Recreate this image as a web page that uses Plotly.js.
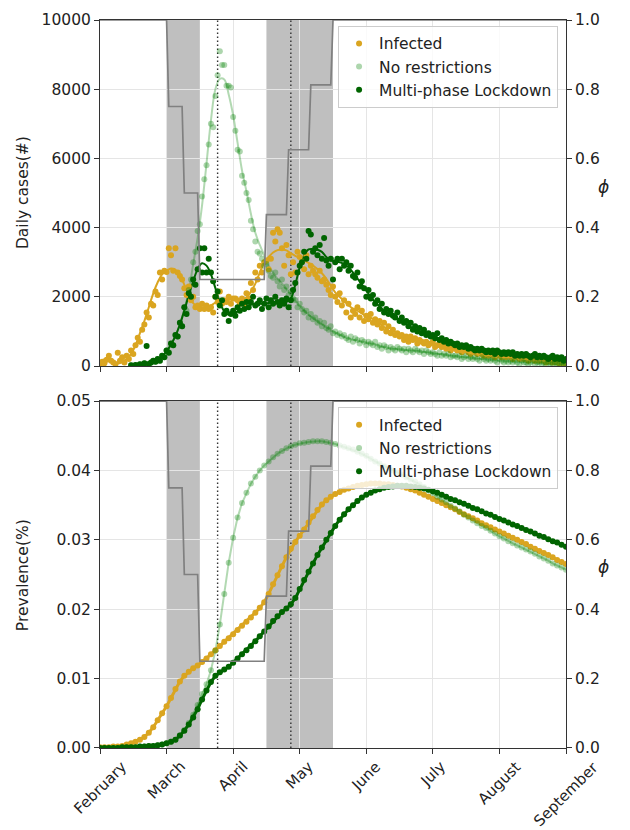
<!DOCTYPE html>
<html>
<head>
<meta charset="utf-8">
<script src="https://cdn.plot.ly/plotly-3.0.1.min.js"></script>
<style>html,body{margin:0;padding:0;background:#fff;}#chart{width:630px;height:830px;}</style>
</head>
<body>
<div id="chart"></div>
<script>
// ---------- DATA ----------
const monthTickDays = [0, 30, 60, 90, 120, 150, 180, 210];
const monthNames = ["February", "March", "April", "May", "June", "July", "August", "September"];

const lockdownStart = [30, 75];
const lockdownEnd = [45, 105];
const markerDays = [53, 86];

// phi (lockdown strength) breakpoints
const phiDays = [0, 30, 31, 37, 38, 44, 45, 74, 75, 84, 85, 94, 95, 104, 105, 210];
const phiValues = [1, 1, 0.75, 0.75, 0.5, 0.5, 0.25, 0.25, 0.4375, 0.4375, 0.625, 0.625, 0.8125, 0.8125, 1, 1];

// Daily cases, observed infected, day 0..210
const dailyInfected = [
50,120,80,180,300,150,100,60,380,150,
250,100,300,200,450,350,600,820,700,1050,
1200,1550,1400,1800,1750,2150,2050,2700,2500,2750,
2720,3400,3200,2750,3400,2700,2600,2500,2250,2050,
2300,1900,2000,1700,1750,1650,1800,1650,1750,1650,
1700,1550,2000,1850,2150,1800,1900,1850,2000,1800,
1950,1950,1900,1800,1950,1800,2100,1950,2400,2200,
2700,2500,2900,2700,3000,3050,2800,3100,3850,3600,
3950,3850,3400,2900,3500,3200,2650,3000,2700,3300,
3150,3000,2800,3200,2650,2900,2750,2650,2550,2750,
2450,2500,2350,2200,2050,2300,2000,1850,2100,1750,
1900,1550,1800,1400,1600,1500,1700,1400,1600,1300,
1450,1350,1500,1250,1350,1200,1300,1100,1250,1000,
1150,950,1050,900,950,850,900,750,850,700,
850,750,800,650,750,700,650,700,600,650,
700,550,600,650,550,600,500,550,450,600,
500,450,500,400,450,500,400,350,450,400,
350,400,350,300,400,300,350,300,250,350,
300,250,300,250,300,250,200,300,250,200,
250,200,250,150,200,250,150,200,150,200,
150,100,150,120,100,150,100,80,120,60,
80];
// Daily cases, simulations, day 14..210
const simStartDay = 14;
const dailyNoRestr = [
20,0,30,10,50,20,
80,40,60,100,150,120,200,150,300,250,
450,400,650,600,900,850,1250,1150,1700,1600,
2200,2500,3000,3300,3900,4100,4900,5400,5800,6400,
7000,6900,7800,8400,9100,8700,8700,8100,8100,8050,
7200,6800,6250,6200,5500,5300,5000,4800,4200,3950,
3600,3300,3250,3100,2900,2950,2750,2600,2550,2700,
2450,2300,2500,2200,2300,2050,2150,1950,1900,1700,
1800,1650,1550,1600,1400,1500,1350,1400,1250,1300,
1150,1250,1100,1050,1150,950,1000,900,950,850,
900,800,750,850,700,800,750,650,750,700,
600,700,650,600,700,550,600,500,600,550,
450,550,500,450,550,500,450,500,400,500,
450,400,500,450,400,450,350,450,400,350,
400,350,300,400,300,350,300,350,250,300,
300,250,300,200,250,300,200,250,200,250,
200,150,250,200,150,200,150,200,150,100,
200,150,100,150,100,150,100,150,100,50,
150,100,100,50,100,150,50,100,100,50,
100,50,100,80,50,100,60,50,100,50,
60];
const dailyLockdown = [
20,0,30,10,50,20,
80,580,60,100,150,120,200,150,300,250,
450,380,650,600,900,850,1250,1150,1700,1500,
2100,2000,2500,2350,2800,3400,2700,3400,2700,3100,
2700,2450,2000,2150,1750,1900,1500,1600,1300,1500,
1600,1450,1700,1600,1800,1650,1850,1700,1850,2000,
1750,1800,1900,1650,1800,1950,1700,1900,1800,2000,
1850,1750,1900,1800,1950,1700,1900,2200,2400,2700,
2900,3000,3300,3100,3900,3800,3300,3400,3200,3500,
3100,3700,3050,2900,3100,2500,3000,3100,2800,3100,
2900,3000,2750,2900,2600,2550,2700,2300,2450,2250,
2000,2200,1950,2050,1800,1900,1650,1800,1550,1650,
1500,1600,1450,1400,1550,1300,1400,1250,1300,1150,
1250,1050,1150,1000,1100,950,1050,900,950,850,
900,800,950,750,800,700,750,650,700,650,
600,650,550,600,550,600,500,550,500,450,
500,450,500,450,400,450,400,450,350,450,
400,350,400,350,400,350,400,300,350,300,
350,300,350,300,250,300,350,250,300,250,
300,250,200,250,300,200,250,200,250,150,
200];

// Smoothed daily cases (every 2 days)
const smoothInfected = [
100,200,220,120,70,120,200,350,600,950,
1300,1700,2100,2420,2650,2750,2820,2780,2650,2350,
2050,1820,1720,1700,1680,1750,1830,1880,1900,1910,
1920,1920,1930,1980,2150,2380,2700,2980,3150,3280,
3350,3370,3340,3260,3180,3120,3050,2980,2900,2800,
2680,2520,2320,2130,2000,1880,1760,1660,1600,1520,
1450,1400,1320,1230,1130,1030,940,880,840,810,
790,770,750,715,680,650,620,595,570,535,
500,475,450,430,410,390,370,350,335,320,
310,300,285,270,255,240,225,210,190,175,
150,125,115,105,95,80];
const smoothNoRestr = [
10,20,40,60,90,130,170,280,420,620,870,1200,1650,
2150,2950,3700,4650,5850,7100,8000,8300,8280,7850,
7250,6450,5650,5050,4400,3850,3500,3200,2900,2700,
2520,2380,2230,2050,1880,1750,1600,1480,1380,1290,
1200,1120,1040,970,900,840,790,760,740,710,
680,650,620,585,550,525,500,485,470,460,
450,440,425,410,390,370,355,340,325,305,
290,275,260,245,232,220,208,196,184,172,
160,152,144,136,128,120,116,104,98,94,
90,86,82,78,74,70];
const smoothLockdown = [
10,20,40,60,90,130,170,280,420,620,870,1200,1600,
2050,2450,2800,2970,2900,2650,2250,1850,1580,1480,
1500,1580,1650,1720,1770,1800,1800,1800,1820,1840,
1850,1830,1850,1950,2350,2850,3200,3370,3380,3360,
3300,3150,3050,3030,3000,2950,2850,2700,2530,2360,
2180,2000,1850,1720,1600,1520,1450,1380,1300,1220,
1130,1065,1000,970,920,870,820,775,730,690,
650,620,590,565,540,520,500,480,455,430,
410,395,380,370,355,340,326,312,298,285,
272,260,248,236,228,220];

// Prevalence (%), every 2 days, day 0..210
const prevInfected = [
0.0001,0.0001,0.0001,0.0002,0.0002,0.0003,0.0005,0.0007,0.0009,0.0012,
0.0016,0.0022,0.0030,0.0040,0.0050,0.0060,0.0072,0.0085,0.0096,0.0104,
0.0110,0.0115,0.0119,0.0124,0.0129,0.0135,0.0141,0.0147,0.0153,0.0158,
0.0164,0.0170,0.0176,0.0182,0.0188,0.0195,0.0202,0.0210,0.0222,0.0236,
0.0249,0.0262,0.0275,0.0287,0.0297,0.0306,0.0315,0.0325,0.0334,0.0343,
0.0351,0.0357,0.0362,0.0366,0.0369,0.0372,0.0374,0.0376,0.0378,0.0379,
0.0380,0.0381,0.0381,0.0381,0.0380,0.0380,0.0379,0.0378,0.0377,0.0375,
0.0373,0.0371,0.0368,0.0365,0.0362,0.0359,0.0356,0.0353,0.0350,0.0347,
0.0344,0.0340,0.0337,0.0334,0.0331,0.0328,0.0324,0.0321,0.0318,0.0315,
0.0312,0.0309,0.0306,0.0303,0.0300,0.0297,0.0294,0.0290,0.0287,0.0284,
0.0281,0.0278,0.0275,0.0271,0.0268,0.0265];
const prevNoRestr = [
0,0,0,0,0,0.0001,0.0001,0.0001,0.0001,0.0002,
0.0002,0.0003,0.0003,0.0004,0.0005,0.0007,0.0009,0.0012,0.0018,0.0026,
0.0036,0.0048,0.0062,0.0078,0.0092,0.0112,0.0140,0.0178,0.0222,0.0267,
0.0303,0.0332,0.0353,0.0368,0.0381,0.0391,0.0400,0.0407,0.0413,0.0419,
0.0424,0.0428,0.0432,0.0435,0.0437,0.0439,0.0440,0.0441,0.0442,0.0442,
0.0442,0.0441,0.0440,0.0438,0.0436,0.0434,0.0432,0.0430,0.0427,0.0424,
0.0421,0.0417,0.0413,0.0410,0.0406,0.0403,0.0400,0.0397,0.0394,0.0390,
0.0387,0.0384,0.0380,0.0376,0.0371,0.0367,0.0362,0.0358,0.0354,0.0349,
0.0345,0.0341,0.0336,0.0332,0.0328,0.0324,0.0320,0.0317,0.0313,0.0309,
0.0305,0.0302,0.0298,0.0295,0.0292,0.0289,0.0286,0.0283,0.0280,0.0276,
0.0273,0.0270,0.0266,0.0263,0.0260,0.0257];
const prevLockdown = [
0,0,0,0,0,0.0001,0.0001,0.0001,0.0001,0.0002,
0.0002,0.0003,0.0003,0.0004,0.0005,0.0007,0.0009,0.0012,0.0018,0.0025,
0.0034,0.0044,0.0056,0.0070,0.0083,0.0095,0.0104,0.0109,0.0113,0.0117,
0.0123,0.0129,0.0135,0.0141,0.0147,0.0154,0.0161,0.0168,0.0175,0.0183,
0.0190,0.0196,0.0201,0.0207,0.0216,0.0229,0.0242,0.0254,0.0266,0.0278,
0.0289,0.0300,0.0310,0.0320,0.0329,0.0337,0.0344,0.0350,0.0356,0.0361,
0.0365,0.0368,0.0371,0.0373,0.0375,0.0376,0.0377,0.0378,0.0378,0.0378,
0.0377,0.0376,0.0375,0.0374,0.0372,0.0370,0.0368,0.0365,0.0362,0.0359,
0.0357,0.0354,0.0352,0.0349,0.0346,0.0344,0.0341,0.0338,0.0336,0.0333,
0.0330,0.0328,0.0325,0.0322,0.0320,0.0317,0.0314,0.0312,0.0309,0.0306,
0.0304,0.0301,0.0298,0.0296,0.0293,0.0290];

// ---------- BUILD ----------
const range = (start, n, step) => Array.from({length: n}, (_, i) => start + i * step);
const dayAll = range(0, dailyInfected.length, 1);
const daySim = range(simStartDay, dailyLockdown.length, 1);
const daySmoothInf = range(0, smoothInfected.length, 2);
const daySmoothSim = range(simStartDay, smoothLockdown.length, 2);
const dayPrev = range(0, prevInfected.length, 2);

const GOLD = '#DAA520';
const LIGHT = 'rgba(0,128,0,0.32)';
const LIGHTLINE = 'rgba(0,128,0,0.3)';
const DARK = '#006400';
const FONT = 'DejaVu Sans';

const traces = [];
function smooth(x, y, color, xa, ya) {
  traces.push({x, y, xaxis: xa, yaxis: ya, type: 'scatter', mode: 'lines',
    line: {color, width: 2, shape: 'spline', smoothing: 1}, showlegend: false, hoverinfo: 'skip'});
}
function dots(x, y, color, name, xa, ya, legend, size) {
  traces.push({x, y, xaxis: xa, yaxis: ya, type: 'scatter', mode: 'markers', name,
    marker: {color, size: size, line: {width: 0}}, showlegend: true, legend});
}
// top panel
smooth(daySmoothInf, smoothInfected, GOLD, 'x', 'y');
smooth(daySmoothSim, smoothNoRestr, LIGHTLINE, 'x', 'y');
smooth(daySmoothSim, smoothLockdown, DARK, 'x', 'y');
dots(dayAll, dailyInfected, GOLD, 'Infected', 'x', 'y', 'legend', 6);
dots(daySim, dailyNoRestr, LIGHT, 'No restrictions', 'x', 'y', 'legend', 6);
dots(daySim, dailyLockdown, DARK, 'Multi-phase Lockdown', 'x', 'y', 'legend', 6);
traces.push({x: phiDays, y: phiValues, xaxis: 'x', yaxis: 'y2', type: 'scatter', mode: 'lines',
  line: {color: '#808080', width: 1.7}, showlegend: false, hoverinfo: 'skip'});
// bottom panel
traces.push({x: dayPrev, y: prevInfected, xaxis: 'x2', yaxis: 'y3', type: 'scatter', mode: 'lines',
  line: {color: GOLD, width: 3}, showlegend: false});
traces.push({x: dayPrev, y: prevNoRestr, xaxis: 'x2', yaxis: 'y3', type: 'scatter', mode: 'lines',
  line: {color: LIGHTLINE, width: 2}, showlegend: false});
traces.push({x: dayPrev, y: prevLockdown, xaxis: 'x2', yaxis: 'y3', type: 'scatter', mode: 'lines',
  line: {color: DARK, width: 3}, showlegend: false});
dots(dayPrev, prevInfected, GOLD, 'Infected', 'x2', 'y3', 'legend2', 6);
dots(dayPrev, prevNoRestr, LIGHT, 'No restrictions', 'x2', 'y3', 'legend2', 6);
dots(dayPrev, prevLockdown, DARK, 'Multi-phase Lockdown', 'x2', 'y3', 'legend2', 6);
traces.push({x: phiDays, y: phiValues, xaxis: 'x2', yaxis: 'y4', type: 'scatter', mode: 'lines',
  line: {color: '#808080', width: 1.7}, showlegend: false, hoverinfo: 'skip'});

// shapes
const shapes = [];
[['x', 'y domain'], ['x2', 'y3 domain']].forEach(([xr, yr]) => {
  lockdownStart.forEach((s, i) => shapes.push({type: 'rect', xref: xr, yref: yr, x0: s, x1: lockdownEnd[i],
    y0: 0, y1: 1, fillcolor: '#bfbfbf', line: {width: 0}, layer: 'below'}));
  markerDays.forEach(d => shapes.push({type: 'line', xref: xr, yref: yr, x0: d, x1: d, y0: 0, y1: 1,
    line: {color: '#333', width: 1.4, dash: '1.5px,2.5px'}, layer: 'below'}));
});

// annotations
const annotations = [];
monthTickDays.forEach((d, i) => annotations.push({x: d, xref: 'x2', y: 0, yref: 'paper', text: monthNames[i],
  showarrow: false, textangle: -45, xanchor: 'center', yanchor: 'top', yshift: -7,
  font: {family: FONT, size: 15, color: '#222'}}));
annotations.push({x: -0.165, xref: 'paper', y: 0.7624, yref: 'paper', text: 'Daily cases(#)', textangle: -90,
  showarrow: false, xanchor: 'center', yanchor: 'middle', font: {family: FONT, size: 15.5, color: '#222'}});
annotations.push({x: -0.165, xref: 'paper', y: 0.2376, yref: 'paper', text: 'Prevalence(%)', textangle: -90,
  showarrow: false, xanchor: 'center', yanchor: 'middle', font: {family: FONT, size: 15.5, color: '#222'}});
[0.7706, 0.2486].forEach(y => annotations.push({x: 1.0794, xref: 'paper', y, yref: 'paper', text: '<i>ϕ</i>',
  showarrow: false, xanchor: 'center', yanchor: 'middle', font: {family: FONT, size: 17, color: '#222'}}));

const axCommon = {showline: true, linecolor: '#333', linewidth: 1, ticks: 'outside', ticklen: 5, tickwidth: 1,
  tickcolor: '#333', tickfont: {family: FONT, size: 15.5, color: '#222'}, zeroline: false};
const xCommon = Object.assign({}, axCommon, {range: [0, 210], tickvals: monthTickDays, showticklabels: false,
  showgrid: true, gridcolor: '#e5e5e5', gridwidth: 1, mirror: true});
const legendCommon = {bgcolor: 'rgba(255,255,255,0.8)', bordercolor: '#cccccc', borderwidth: 1,
  font: {family: FONT, size: 15.5, color: '#222'}, xanchor: 'right', yanchor: 'top', x: 0.983, itemwidth: 30};

const layout = {
  width: 630, height: 830,
  margin: {l: 100, r: 64, t: 20, b: 82},
  paper_bgcolor: '#fff', plot_bgcolor: '#fff',
  font: {family: FONT, color: '#222'},
  showlegend: true,
  legend: Object.assign({}, legendCommon, {y: 0.992}),
  legend2: Object.assign({}, legendCommon, {y: 0.468}),
  xaxis: Object.assign({}, xCommon, {anchor: 'y', domain: [0, 1]}),
  xaxis2: Object.assign({}, xCommon, {anchor: 'y3', domain: [0, 1]}),
  yaxis: Object.assign({}, axCommon, {domain: [0.5247, 1], range: [0, 10000], tickvals: [0, 2000, 4000, 6000, 8000, 10000],
    tickformat: 'd', showgrid: true, gridcolor: '#e5e5e5', anchor: 'x'}),
  yaxis2: Object.assign({}, axCommon, {overlaying: 'y', side: 'right', range: [0, 1], tickvals: [0, 0.2, 0.4, 0.6, 0.8, 1.0],
    tickformat: '.1f', showgrid: false, anchor: 'x'}),
  yaxis3: Object.assign({}, axCommon, {domain: [0, 0.4766], range: [0, 0.05], tickvals: [0, 0.01, 0.02, 0.03, 0.04, 0.05],
    tickformat: '.2f', showgrid: true, gridcolor: '#e5e5e5', anchor: 'x2'}),
  yaxis4: Object.assign({}, axCommon, {overlaying: 'y3', side: 'right', range: [0, 1], tickvals: [0, 0.2, 0.4, 0.6, 0.8, 1.0],
    tickformat: '.1f', showgrid: false, anchor: 'x2'}),
  shapes, annotations
};

Plotly.newPlot('chart', traces, layout, {staticPlot: true, displayModeBar: false});
</script>
</body>
</html>
